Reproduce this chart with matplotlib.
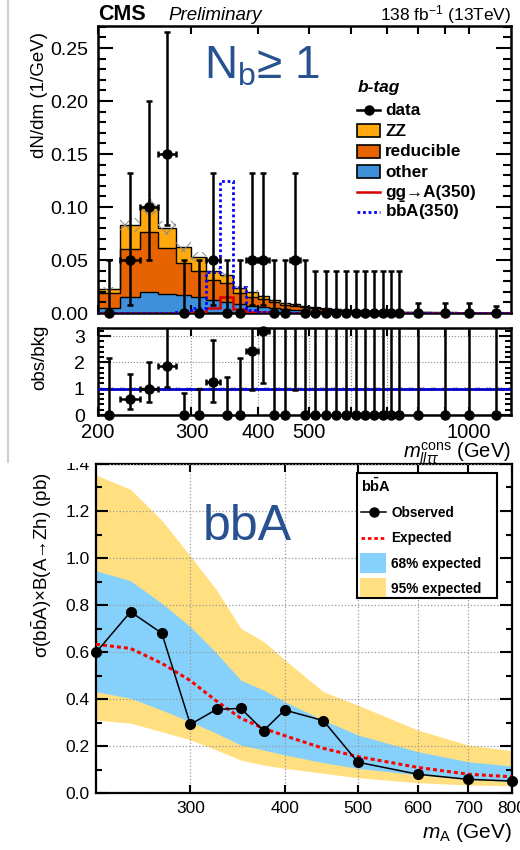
import numpy as np
import matplotlib
matplotlib.use('Agg')
import matplotlib.pyplot as plt
from matplotlib.ticker import FixedLocator, NullLocator, FuncFormatter, MultipleLocator, FormatStrFormatter
from matplotlib.patches import Rectangle
from matplotlib.lines import Line2D

plt.rcParams['font.family'] = ['Liberation Sans', 'DejaVu Sans']
plt.rcParams['mathtext.fontset'] = 'custom'
plt.rcParams['mathtext.rm'] = 'Liberation Sans'
plt.rcParams['mathtext.it'] = 'Liberation Sans:italic'
plt.rcParams['mathtext.bf'] = 'Liberation Sans:bold'
plt.rcParams['mathtext.sf'] = 'Liberation Sans'
plt.rcParams['hatch.linewidth'] = 0.7

W, H = 520, 850
def fx(x): return x / W
def fy(y): return 1 - y / H

# ---------------- top panel data ----------------
bin_edges = [200, 220, 240, 260, 280, 300, 320, 340, 360, 380, 400, 420, 440, 460, 480, 500,
             525, 550, 575, 600, 625, 650, 675, 700, 725, 750, 850, 950, 1050, 1200]
bkg_other = [0.0044, 0.0148, 0.0200, 0.0180, 0.0170, 0.0148, 0.0120, 0.0107, 0.0085, 0.0069,
             0.0060, 0.0044, 0.0038, 0.0030, 0.0025,
             0.0022, 0.0018, 0.0015, 0.0012, 0.0010, 0.0008, 0.0007, 0.0006, 0.0005, 0.0004,
             0.0003, 0.0002, 0.0001, 0.0001]
bkg_reducible = [0.0142, 0.0452, 0.0567, 0.0430, 0.0300, 0.0252, 0.0190, 0.0173, 0.0101, 0.0085,
                 0.0070, 0.0056, 0.0042, 0.0040, 0.0030,
                 0.0026, 0.0021, 0.0017, 0.0015, 0.0013, 0.0010, 0.0008, 0.0007, 0.0006, 0.0005,
                 0.0003, 0.0002, 0.0001, 0.0001]
bkg_zz = [0.0040, 0.0230, 0.0233, 0.0190, 0.0156, 0.0130, 0.0086, 0.0078, 0.0047, 0.0046,
          0.0027, 0.0023, 0.0017, 0.0015, 0.0014,
          0.0010, 0.0009, 0.0008, 0.0006, 0.0005, 0.0005, 0.0004, 0.0003, 0.0002, 0.0002,
          0.0002, 0.0001, 0.0001, 0.0000]
sig_ggA = [0.0003, 0.0003, 0.0003, 0.0004, 0.0004, 0.0006, 0.0046, 0.0155, 0.0042, 0.0008,
           0.0005, 0.0004, 0.0003, 0.0003, 0.0003,
           0.0002, 0.0002, 0.0002, 0.0002, 0.0002, 0.0002, 0.0002, 0.0002, 0.0002, 0.0002,
           0.0002, 0.0002, 0.0002, 0.0002]
sig_bbA = [0.0003, 0.0003, 0.0003, 0.0004, 0.0005, 0.0044, 0.0385, 0.1250, 0.0245, 0.0030,
           0.0005, 0.0004, 0.0003, 0.0003, 0.0003,
           0.0002, 0.0002, 0.0002, 0.0002, 0.0002, 0.0002, 0.0002, 0.0002, 0.0002, 0.0002,
           0.0002, 0.0002, 0.0002, 0.0002]
bkg_unc = 0.08

data_y = [0, 0.05, 0.10, 0.15, 0, 0, 0.05, 0, 0, 0.05, 0.05, 0, 0, 0.05, 0,
          0, 0, 0, 0, 0, 0, 0, 0, 0, 0,
          0, 0, 0, 0]
data_up = [0.05, 0.082, 0.10, 0.115, 0.05, 0.05, 0.082, 0.05, 0.05, 0.082, 0.082, 0.05, 0.05, 0.082, 0.05,
           0.04, 0.04, 0.04, 0.04, 0.04, 0.04, 0.04, 0.04, 0.04, 0.04,
           0.0095, 0.0095, 0.0095, 0.0068]
data_dn = [0, 0.042, 0.05, 0.067, 0, 0, 0.042, 0, 0, 0.042, 0.042, 0, 0, 0.042, 0,
           0, 0, 0, 0, 0, 0, 0, 0, 0, 0,
           0, 0, 0, 0]

ratio_y = [0, 0.60, 1.00, 1.87, 0, 0, 1.27, 0, 0, 2.45, 3.18, 0, 0, 5.9, 0,
           0, 0, 0, 0, 0, 0, 0, 0, 0, 0,
           0, 0, 0, 0]
ratio_up = [2.15, 0.97, 1.00, 1.6, 0.85, 0.98, 1.6, 1.43, 2.15, 2.0, 2.5, 4.0, 5.2, 5.0, 7.2,
            7.0, 8.3, 10, 12, 14, 17, 21, 25, 31, 36,
            12, 20, 33, 34]
ratio_dn = [0, 0.37, 0.50, 0.82, 0, 0, 0.79, 0, 0, 1.50, 1.98, 0, 0, 4.96, 0,
            0, 0, 0, 0, 0, 0, 0, 0, 0, 0,
            0, 0, 0, 0]

# ---------------- bottom panel data ----------------
mA = [225, 250, 275, 300, 325, 350, 375, 400, 450, 500, 600, 700, 800]
obs = [0.598, 0.771, 0.680, 0.292, 0.356, 0.360, 0.265, 0.353, 0.308, 0.131, 0.080, 0.058, 0.051]
exp_lim = [0.633, 0.615, 0.552, 0.478, 0.391, 0.318, 0.275, 0.244, 0.190, 0.155, 0.109, 0.080, 0.069]
b68_hi = [0.946, 0.903, 0.807, 0.708, 0.595, 0.480, 0.438, 0.389, 0.310, 0.247, 0.176, 0.133, 0.115]
b68_lo = [0.431, 0.403, 0.353, 0.303, 0.254, 0.204, 0.183, 0.162, 0.129, 0.105, 0.077, 0.058, 0.048]
b95_hi = [1.353, 1.292, 1.160, 1.008, 0.864, 0.700, 0.645, 0.567, 0.431, 0.374, 0.268, 0.204, 0.180]
b95_lo = [0.311, 0.297, 0.261, 0.226, 0.183, 0.140, 0.119, 0.105, 0.084, 0.065, 0.044, 0.034, 0.031]

# colors
C_ZZ = '#ffa90e'
C_RED = '#e76300'
C_OTH = '#3f90da'
C_68 = '#85D1FB'
C_95 = '#FFDF7F'
C_TXT = '#27528F'

fig = plt.figure(figsize=(5.2, 8.5), dpi=100)

edges = np.array(bin_edges, float)
centers = 0.5 * (edges[1:] + edges[:-1])
halfw = 0.5 * (edges[1:] - edges[:-1])

# ======== top panel ========
ax1 = fig.add_axes([fx(98), fy(313), (511 - 98) / W, (313 - 26) / H])
ax1.set_xscale('log')
oth = np.array(bkg_other); red = np.array(bkg_reducible); zz = np.array(bkg_zz)
c1 = oth; c2 = oth + red; c3 = c2 + zz
ax1.stairs(c1, edges, baseline=0, fill=True, color=C_OTH, lw=0, zorder=1)
ax1.stairs(c2, edges, baseline=c1, fill=True, color=C_RED, lw=0, zorder=1)
ax1.stairs(c3, edges, baseline=c2, fill=True, color=C_ZZ, lw=0, zorder=1)
for c in (c1, c2, c3):
    ax1.stairs(c, edges, baseline=None, color='black', lw=1.0, zorder=2)
ax1.stairs(c3 * (1 + bkg_unc), edges, baseline=c3 * (1 - bkg_unc), fill=True,
           facecolor='none', edgecolor='#8a8a8a', hatch='xx', lw=0, zorder=3)
ax1.stairs(sig_ggA, edges, baseline=None, color='#d40000', lw=1.8, zorder=4)
ax1.stairs(sig_bbA, edges, baseline=None, color='#0000ff', lw=2.0, ls=(0, (1, 1)), zorder=4)

dy = np.array(data_y); dup = np.array(data_up); ddn = np.array(data_dn)
nz = dy > 0
ax1.errorbar(centers[nz], dy[nz], xerr=halfw[nz], yerr=[ddn[nz], dup[nz]], fmt='o', color='black',
             ms=6.5, lw=1.8, capsize=2.5, capthick=1.8, zorder=10, clip_on=False)
ax1.errorbar(centers[~nz], dy[~nz], yerr=[ddn[~nz], dup[~nz]], fmt='o', color='black',
             ms=6.5, lw=1.8, capsize=2.5, capthick=1.8, zorder=10, clip_on=False)

ax1.set_xlim(200, 1200)
ax1.set_ylim(0, 0.2708)
ax1.xaxis.set_major_locator(FixedLocator([200, 300, 400, 500, 600, 700, 800, 900, 1000]))
ax1.xaxis.set_minor_locator(NullLocator())
ax1.xaxis.set_major_formatter(FuncFormatter(lambda v, p: ''))
ax1.yaxis.set_major_locator(MultipleLocator(0.05))
ax1.yaxis.set_minor_locator(MultipleLocator(0.01))
ax1.yaxis.set_major_formatter(FormatStrFormatter('%.2f'))
ax1.tick_params(axis='both', which='both', direction='in', top=True, right=True, width=1.5)
ax1.tick_params(axis='y', which='major', length=10.5, labelsize=14, pad=7)
ax1.tick_params(axis='y', which='minor', length=5.5)
ax1.tick_params(axis='x', which='major', length=6)
for s in ax1.spines.values():
    s.set_linewidth(1.8)

# ======== ratio panel ========
ax2 = fig.add_axes([fx(98), fy(415), (511 - 98) / W, (415 - 328) / H])
ax2.set_xscale('log')
ax2.set_xlim(200, 1200)
ax2.set_ylim(0, 3.31)
ax2.grid(True, which='major', ls=':', color='#8a8a8a', lw=0.8)
ax2.set_axisbelow(True)
ax2.stairs(np.full(len(centers), 1 + bkg_unc), edges, baseline=np.full(len(centers), 1 - bkg_unc),
           fill=True, facecolor='none', edgecolor='#a0a0a0', hatch='xxx', lw=0, zorder=2)
ax2.axhline(1.0, color='#0000c8', lw=2.0, zorder=3)
ry = np.array(ratio_y); rup = np.array(ratio_up); rdn = np.array(ratio_dn)
rnz = ry > 0
ax2.errorbar(centers[rnz], ry[rnz], xerr=halfw[rnz], yerr=[rdn[rnz], rup[rnz]], fmt='none', ecolor='black',
             lw=1.8, capsize=2.5, capthick=1.8, zorder=10)
ax2.errorbar(centers[~rnz], ry[~rnz], yerr=[rdn[~rnz], rup[~rnz]], fmt='none', ecolor='black',
             lw=1.8, capsize=2.5, capthick=1.8, zorder=10)
inr = ry <= 3.31
ax2.plot(centers[inr], ry[inr], 'o', color='black', ms=6.5, zorder=11, clip_on=False)

ax2.xaxis.set_major_locator(FixedLocator([200, 300, 400, 500, 600, 700, 800, 900, 1000]))
ax2.xaxis.set_minor_locator(NullLocator())
ax2.xaxis.set_major_formatter(FuncFormatter(
    lambda v, p: '%d' % v if int(round(v)) in (200, 300, 400, 500, 1000) else ''))
ax2.yaxis.set_major_locator(MultipleLocator(1))
ax2.yaxis.set_minor_locator(MultipleLocator(0.2))
ax2.yaxis.set_major_formatter(FormatStrFormatter('%d'))
ax2.tick_params(axis='both', which='both', direction='in', top=True, right=True, width=1.5)
ax2.tick_params(axis='y', which='major', length=9, labelsize=14, pad=9.5)
ax2.tick_params(axis='y', which='minor', length=4.5)
ax2.tick_params(axis='x', which='major', length=6, labelsize=14.5, pad=5.5)
for s in ax2.spines.values():
    s.set_linewidth(1.8)

# ======== bottom limit panel ========
ax3 = fig.add_axes([fx(96), fy(793), (512 - 96) / W, (793 - 464) / H])
ax3.set_xscale('log')
ax3.fill_between(mA, b95_lo, b95_hi, color=C_95, lw=0, zorder=1)
ax3.fill_between(mA, b68_lo, b68_hi, color=C_68, lw=0, zorder=1.5)
ax3.grid(True, which='major', ls=':', color='#9a9a9a', lw=0.9)
ax3.set_axisbelow(False)
ax3.plot(mA, exp_lim, color='#ff0000', lw=2.2, ls=(0, (1.3, 1.0)), zorder=4)
ax3.plot(mA, obs, color='black', lw=1.1, marker='o', ms=7, zorder=5, clip_on=False)
ax3.set_xlim(225, 800)
ax3.set_ylim(0, 1.4)
ax3.xaxis.set_major_locator(FixedLocator([300, 400, 500, 600, 700, 800]))
ax3.xaxis.set_minor_locator(NullLocator())
ax3.xaxis.set_major_formatter(FuncFormatter(lambda v, p: '%d' % v))
ax3.yaxis.set_major_locator(MultipleLocator(0.2))
ax3.yaxis.set_minor_locator(MultipleLocator(0.1))
ax3.yaxis.set_major_formatter(FormatStrFormatter('%.1f'))
ax3.tick_params(axis='both', which='both', direction='in', top=True, right=True, width=1.5)
ax3.tick_params(axis='y', which='major', length=8.5, labelsize=12.5, pad=4.5)
ax3.tick_params(axis='y', which='minor', length=4.5)
ax3.tick_params(axis='x', which='major', length=6, labelsize=12.5, pad=6)
for s in ax3.spines.values():
    s.set_linewidth(1.6)

# ======== texts ========
fig.text(fx(98), fy(20), 'CMS', fontsize=15.5, fontweight='bold', va='baseline', ha='left')
fig.text(fx(168), fy(20), 'Preliminary', fontsize=13.5, style='italic', va='baseline', ha='left')
fig.text(fx(511), fy(20), r'138 fb$^{-1}$ (13TeV)', fontsize=12.5, va='baseline', ha='right')
fig.text(fx(204), fy(78), r'N$_{\rm b}$≥ 1', fontsize=33, color=C_TXT, va='baseline', ha='left')
fig.text(fx(40), fy(32), 'dN/dm (1/GeV)', fontsize=13.5, rotation=90, va='top', ha='center')
fig.text(fx(40), fy(357), 'obs/bkg', fontsize=13.5, rotation=90, va='center', ha='center')
fig.text(fx(511), fy(458), r'$m_{ll\tau\tau}^{\rm cons}$ (GeV)', fontsize=14.5, va='baseline', ha='right')
fig.text(fx(203), fy(540), 'bbA', fontsize=36, color=C_TXT, va='baseline', ha='left')
fig.text(fx(42), fy(472), r'σ(b$\bar{\rm b}$A)×B(A→Zh) (pb)', fontsize=13.5, rotation=90, va='top', ha='center')
fig.text(fx(512), fy(838), r'$m_{\rm A}$ (GeV)', fontsize=15, va='baseline', ha='right')

# ---- top legend ----
fig.text(fx(358), fy(92), 'b-tag', fontsize=12.5, fontweight='bold', style='italic', va='baseline')
leg_base = [115, 136, 156.5, 177, 197, 217]
leg_labels = ['data', 'ZZ', 'reducible', 'other', 'gg→A(350)', r'b$\mathbf{\bar{b}}$A(350)']
for yb, lab in zip(leg_base, leg_labels):
    fig.text(fx(385), fy(yb), lab, fontsize=12.3, fontweight='bold', va='baseline', ha='left')
yb = leg_base[0]
fig.add_artist(Line2D([fx(357), fx(380)], [fy(yb - 5)] * 2, color='black', lw=1.8))
fig.add_artist(Line2D([fx(368.5)], [fy(yb - 5)], color='black', marker='o', ms=6.5))
for yb, col in zip(leg_base[1:4], [C_ZZ, C_RED, C_OTH]):
    fig.add_artist(Rectangle((fx(357), fy(yb + 1)), (380 - 357) / W, 13 / H, facecolor=col,
                             edgecolor='black', lw=1.2, transform=fig.transFigure))
fig.add_artist(Line2D([fx(357), fx(380)], [fy(leg_base[4] - 5)] * 2, color='#d40000', lw=1.8))
fig.add_artist(Line2D([fx(357), fx(380)], [fy(leg_base[5] - 5)] * 2, color='#0000ff', lw=2.0, ls=(0, (1, 1))))

# ---- bottom legend ----
fig.add_artist(Rectangle((fx(357), fy(598)), (497 - 357) / W, (598 - 473) / H, facecolor='white',
                         edgecolor='black', lw=1.5, transform=fig.transFigure, zorder=6))
fig.text(fx(361), fy(492), r'$\mathbf{b\bar{b}A}$', fontsize=10.5, va='baseline', ha='left', zorder=7)
bl_base = [517, 542, 568, 593]
bl_labels = ['Observed', 'Expected', '68% expected', '95% expected']
for yb, lab in zip(bl_base, bl_labels):
    fig.text(fx(391), fy(yb), lab, fontsize=9.8, fontweight='bold', va='baseline', ha='left', zorder=7)
fig.add_artist(Line2D([fx(361), fx(386)], [fy(512)] * 2, color='black', lw=1.1, zorder=7))
fig.add_artist(Line2D([fx(373.5)], [fy(512)], color='black', marker='o', ms=6.5, zorder=7))
fig.add_artist(Line2D([fx(361), fx(386)], [fy(538)] * 2, color='#ff0000', lw=2.0, ls=(0, (1.3, 1.0)), zorder=7))
fig.add_artist(Rectangle((fx(360), fy(573)), 26 / W, 20 / H, facecolor=C_68, lw=0,
                         transform=fig.transFigure, zorder=7))
fig.add_artist(Rectangle((fx(360), fy(597)), 26 / W, 19 / H, facecolor=C_95, lw=0,
                         transform=fig.transFigure, zorder=7))

# screenshot-style frame remnants
fig.add_artist(Rectangle((fx(10), fy(463)), 85 / W, 13 / H, facecolor='white', lw=0,
                         transform=fig.transFigure, zorder=5))
fig.add_artist(Line2D([fx(8), fx(8)], [fy(0), fy(462)], color='#cfcfcf', lw=1.5))

fig.savefig('out.png', dpi=100)
